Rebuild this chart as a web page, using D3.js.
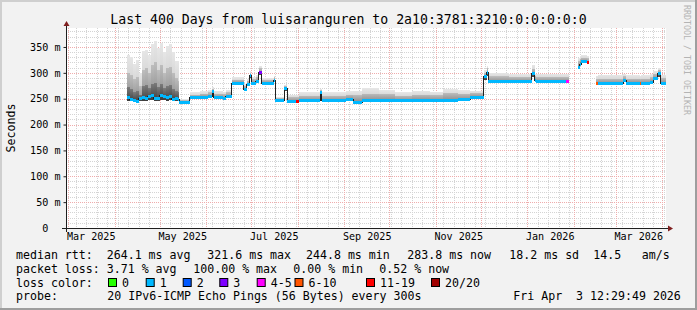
<!DOCTYPE html>
<html>
<head>
<meta charset="UTF-8">
<script src="https://d3js.org/d3.v7.min.js"></script>
<style>
  body { margin: 0; background: #fff; }
  svg text { font-family: "DejaVu Sans Mono", monospace; fill: #000; }
  .axis text { font-size: 10.1px; white-space: pre; }
  .legend text { font-size: 11.6px; white-space: pre; }
</style>
</head>
<body>
<svg id="chart" width="697" height="310"></svg>
<script>
// ---- data ----
const title = "Last 400 Days from luisaranguren to 2a10:3781:3210:0:0:0:0:0";
const yTicks = [0, 50, 100, 150, 200, 250, 300, 350];
const xLabelMonths = ["2025-03", "2025-05", "2025-07", "2025-09", "2025-11", "2026-01", "2026-03"];

const stepDates = [
  "2025-04-09","2025-04-11","2025-04-13","2025-04-15","2025-04-17","2025-04-19","2025-04-21","2025-04-23",
  "2025-04-25","2025-04-27","2025-04-29","2025-05-01","2025-05-03","2025-05-05","2025-05-07","2025-05-09",
  "2025-05-11","2025-05-13","2025-05-14","2025-05-21","2025-05-28","2025-06-02","2025-06-05","2025-06-06",
  "2025-06-12","2025-06-14","2025-06-18","2025-06-26","2025-06-28","2025-06-30","2025-07-01","2025-07-04",
  "2025-07-06","2025-07-08","2025-07-16","2025-07-17","2025-07-23","2025-07-25","2025-07-31","2025-08-02",
  "2025-08-16","2025-08-17","2025-09-02","2025-09-07","2025-09-13","2025-09-24","2025-10-05","2025-10-16",
  "2025-10-28","2025-11-06","2025-11-16","2025-11-24","2025-12-03","2025-12-05","2025-12-06","2025-12-20",
  "2026-01-04","2026-01-06","2026-01-07","2026-01-27","2026-01-29","2026-02-04","2026-02-05","2026-02-06",
  "2026-02-10","2026-02-11","2026-02-16","2026-02-17","2026-03-06","2026-03-08","2026-03-17","2026-03-18",
  "2026-03-24","2026-03-26","2026-03-29","2026-03-31","2026-04-04"
];
// median rtt (ms)
const medianMs = [
  254,250,247,246,251,254,252,255, 257,252,251,258,255,254,256,250,
  252,249,244,253,254,256,264,253, 252,256,281,268,278,296,281,285,
  302,281,287,247,271,246,246,247, 263,247,250,244,247,248,247,248,
  247,248,249,254,293,302,284,284, 300,287,284,284,null,312,318,322,
  320,null,280,280,286,281,280,280, 283,290,299,281,null
];
// smoke: lowest ping, dark band top, mid band top, highest ping (ms)
const pingLow = [
  246,245,244,243,245,246,246,247, 247,246,245,248,247,246,247,245,
  246,245,242,251,252,253,254,251, 250,252,279,265,276,290,279,282,
  296,279,284,245,265,244,244,245, 252,245,247,243,245,246,245,246,
  245,246,247,252,287,294,282,282, 292,284,282,282,null,310,316,320,
  318,null,278,278,283,279,278,278, 281,286,292,279,null
];
const pingDark = [
  272,268,262,265,258,274,276,270, 278,280,272,278,270,274,276,268,
  264,262,245,254,255,257,265,254, 253,257,282,269,279,297,282,286,
  303,282,288,248,272,247,247,248, 264,248,251,246,249,250,249,250,
  249,250,251,255,295,304,286,286, 302,289,286,286,null,314,320,324,
  322,null,282,282,288,283,282,282, 285,292,301,283,null
];
const pingMid = [
  300,295,288,292,275,305,310,300, 315,320,305,315,300,310,312,300,
  290,285,247,258,260,262,269,260, 259,262,287,275,285,300,288,292,
  309,286,291,251,275,253,253,256, 267,256,258,257,260,259,256,258,
  257,261,260,261,300,309,293,292, 308,294,292,292,null,322,327,329,
  328,null,288,289,293,289,288,289, 291,298,306,290,null
];
const pingMax = [
  335,330,318,325,300,342,345,335, 355,362,348,358,340,352,355,340,
  322,322,249,262,264,266,272,265, 263,266,291,279,289,303,292,296,
  313,290,293,253,277,258,258,262, 269,262,264,265,270,266,262,265,
  263,268,266,265,305,313,300,297, 315,298,298,298,null,328,332,334,
  332,null,294,296,298,295,294,295, 297,303,310,296,null
];
// packet loss bucket of each step (index into lossLabels)
const lossBucket = [
  1,1,1,1,1,1,1,1, 1,1,1,1,1,1,1,1,
  1,1,1,1,1,1,1,1, 1,1,1,1,1,1,1,1,
  3,1,1,1,1,1,6,1, 1,1,1,1,1,1,1,1,
  1,1,1,1,1,1,1,1, 1,1,1,4,null,1,1,1,
  6,null,5,1,1,1,5,1, 1,1,1,1,null
];
const lossLabels = ["0", "1", "2", "3", "4-5", "6-10", "11-19", "20/20"];
const lossColors = ["#26ff00", "#00b8ff", "#0059ff", "#7e00ff", "#ff00ff", "#ff5500", "#ff0000", "#a10000"];

const legendRtt = [
  [16, "median rtt:  264.1 ms avg"], [207.3, "321.6 ms max"], [306, "244.8 ms min"],
  [407.3, "283.8 ms now"], [509.3, "18.2 ms sd"], [593.3, "14.5"], [641.7, "am/s"]
];
const legendLoss = [
  [16, "packet loss: 3.71 % avg"], [193.3, "100.00 % max"], [293.3, "0.00 % min"], [379.3, "0.52 % now"]
];
const legendProbe = [
  [16, "probe:"], [107.3, "20 IPv6-ICMP Echo Pings (56 Bytes) every 300s"], [513.3, "Fri Apr  3 12:29:49 2026"]
];
const lossBoxX = [108, 145.7, 182.7, 219.3, 256.7, 294.5, 366, 431];

// ---- layout ----
const W = 697, H = 310;
const plot = {left: 66, top: 28, width: 600, height: 200};
const yMax = 386.7;
const endTime = new Date(2026, 3, 3, 12, 29, 49);
const startTime = d3.timeDay.offset(endTime, -400);

const svg = d3.select("#chart");
const parseDay = d3.timeParse("%Y-%m-%d");
const parseMonth = d3.timeParse("%Y-%m");

let x = d3.scaleTime().domain([startTime, endTime]).range([plot.left, plot.left + plot.width]);
let y = d3.scaleLinear().domain([0, yMax]).range([plot.top + plot.height, plot.top]);

// smoke shading gradients (light at top of each band, darker toward the median)
const smokeShades = [["max", "#e6e6e6", "#c6c6c6"], ["mid", "#bdbdbd", "#8a8a8a"], ["dark", "#7a7a7a", "#3e3e3e"]];
let defs = svg.append("defs");
smokeShades.forEach(([key, top, bottom]) => {
  let g = defs.append("linearGradient").attr("id", "smoke-" + key)
    .attr("x1", 0).attr("y1", 0).attr("x2", 0).attr("y2", 1);
  g.append("stop").attr("offset", "0%").attr("stop-color", top);
  g.append("stop").attr("offset", "100%").attr("stop-color", bottom);
});

// background + shade border
svg.append("rect").attr("width", W).attr("height", H).attr("fill", "#f2f2f2");
svg.append("path").attr("d", `M0,0H${W}V2H2V${H}H0Z`).attr("fill", "#cfcfcf");
svg.append("path").attr("d", `M${W},${H}H0V${H-2}H${W-2}V0H${W}Z`).attr("fill", "#9e9e9e");

// canvas
svg.append("rect")
  .attr("x", plot.left).attr("y", plot.top)
  .attr("width", plot.width).attr("height", plot.height)
  .attr("fill", "#fff");

// grid
let grid = svg.append("g").attr("shape-rendering", "crispEdges");
grid.selectAll(".hminor").data(y.ticks(40)).join("line")
  .attr("x1", plot.left).attr("x2", plot.left + plot.width)
  .attr("y1", d => Math.round(y(d)) + 0.5).attr("y2", d => Math.round(y(d)) + 0.5)
  .attr("stroke", "#d4d4d4").attr("stroke-dasharray", "1,1");
grid.selectAll(".vminor").data(x.ticks(d3.timeThursday)).join("line")
  .attr("x1", d => Math.round(x(d)) + 0.5).attr("x2", d => Math.round(x(d)) + 0.5)
  .attr("y1", plot.top).attr("y2", plot.top + plot.height)
  .attr("stroke", "#d4d4d4").attr("stroke-dasharray", "1,1");
grid.selectAll(".hmajor").data(yTicks).join("line")
  .attr("x1", plot.left).attr("x2", plot.left + plot.width)
  .attr("y1", d => Math.round(y(d)) + 0.5).attr("y2", d => Math.round(y(d)) + 0.5)
  .attr("stroke", "#efacac").attr("stroke-dasharray", "1,1");
grid.selectAll(".vmajor").data(x.ticks(d3.timeMonth)).join("line")
  .attr("x1", d => Math.round(x(d)) + 0.5).attr("x2", d => Math.round(x(d)) + 0.5)
  .attr("y1", plot.top).attr("y2", plot.top + plot.height)
  .attr("stroke", "#efacac").attr("stroke-dasharray", "1,1");

// steps
let steps = stepDates.map((s, i) => ({
  t0: parseDay(s),
  t1: i + 1 < stepDates.length ? parseDay(stepDates[i + 1]) : parseDay(s),
  med: medianMs[i], low: pingLow[i], dark: pingDark[i], mid: pingMid[i], max: pingMax[i],
  loss: lossBucket[i]
}));
let valid = steps.filter(d => d.med != null);

svg.append("clipPath").attr("id", "clip").append("rect")
  .attr("x", plot.left).attr("y", plot.top).attr("width", plot.width).attr("height", plot.height);
let data = svg.append("g").attr("clip-path", "url(#clip)").attr("shape-rendering", "crispEdges");

// smoke layers
smokeShades.forEach(([key]) => {
  data.append("g").selectAll("rect").data(valid).join("rect")
    .attr("x", d => x(d.t0))
    .attr("width", d => x(d.t1) - x(d.t0))
    .attr("y", d => y(d[key]))
    .attr("height", d => y(d.low) - y(d[key]))
    .attr("fill", `url(#smoke-${key})`);
});

// median line (black) with loss coloured bars on top
let medLine = d3.line()
  .defined(d => d.med != null)
  .x(d => x(d.t0))
  .y(d => Math.round(y(d.med)) + 0.5)
  .curve(d3.curveStepAfter);
data.append("path").datum(steps).attr("d", medLine)
  .attr("fill", "none").attr("stroke", "#202020").attr("stroke-width", 1);
data.append("g").selectAll("rect").data(valid).join("rect")
  .attr("x", d => x(d.t0))
  .attr("width", d => x(d.t1) - x(d.t0))
  .attr("y", d => Math.round(y(d.med)) - 1)
  .attr("height", 3)
  .attr("fill", d => lossColors[d.loss]);

// axes
let yAxis = d3.axisLeft(y).tickValues(yTicks).tickSize(3).tickPadding(3)
  .tickFormat(d => d === 0 ? "0  " : d + " m");
svg.append("g").attr("class", "axis")
  .attr("transform", `translate(${plot.left + 0.5},0)`)
  .call(yAxis)
  .call(g => g.select(".domain").remove())
  .call(g => g.selectAll("line").attr("stroke", "#1f1f1f"));

let xAxis = d3.axisBottom(x)
  .tickValues(xLabelMonths.map(m => d3.timeDay.offset(parseMonth(m), 15)))
  .tickFormat(d3.timeFormat("%b %Y"))
  .tickSize(0).tickPadding(5.2);
svg.append("g").attr("class", "axis")
  .attr("transform", `translate(0,${plot.top + plot.height})`)
  .call(xAxis)
  .call(g => g.select(".domain").remove());

// axis lines + arrows
const x0 = plot.left + 0.5, yb = plot.top + plot.height + 0.5;
svg.append("line").attr("x1", plot.left - 4).attr("x2", plot.left + plot.width + 4)
  .attr("y1", yb).attr("y2", yb).attr("stroke", "#1f1f1f");
svg.append("line").attr("x1", x0).attr("x2", x0)
  .attr("y1", plot.top + plot.height + 4).attr("y2", plot.top - 4).attr("stroke", "#1f1f1f");
const xr = plot.left + plot.width;
svg.append("path").attr("fill", "#801f1f")
  .attr("d", `M${xr + 2},${yb - 3}L${xr + 2},${yb + 3}L${xr + 7},${yb}Z`);
svg.append("path").attr("fill", "#801f1f")
  .attr("d", `M${x0 - 3},${plot.top - 2}L${x0 + 3},${plot.top - 2}L${x0},${plot.top - 7}Z`);

// title, unit, watermark
svg.append("text").attr("x", W / 2).attr("y", 24).attr("text-anchor", "middle")
  .style("font-size", "13.2px").text(title);
svg.append("text").attr("transform", "translate(15.2,128) rotate(-90)")
  .attr("text-anchor", "middle").style("font-size", "11.6px").text("Seconds");
svg.append("text").attr("transform", "translate(684,5) rotate(90)")
  .style("font-size", "8.3px").style("fill", "#b4b4b4").text("RRDTOOL / TOBI OETIKER");

// legend
let legend = svg.append("g").attr("class", "legend");
[[legendRtt, 258.5], [legendLoss, 272.5], [legendProbe, 300.2]].forEach(([items, by]) => {
  legend.append("g").selectAll("text").data(items).join("text")
    .attr("x", d => d[0]).attr("y", by).text(d => d[1]);
});
legend.append("text").attr("x", 16).attr("y", 286.5).text("loss color:");
legend.append("g").selectAll("rect").data(lossLabels).join("rect")
  .attr("x", (d, i) => lossBoxX[i] + 0.5).attr("y", 278.5)
  .attr("width", 8).attr("height", 8)
  .attr("fill", (d, i) => lossColors[i]).attr("stroke", "#000");
legend.append("g").selectAll("text").data(lossLabels).join("text")
  .attr("x", (d, i) => lossBoxX[i] + 14).attr("y", 286.5).text(d => d);
</script>
</body>
</html>
